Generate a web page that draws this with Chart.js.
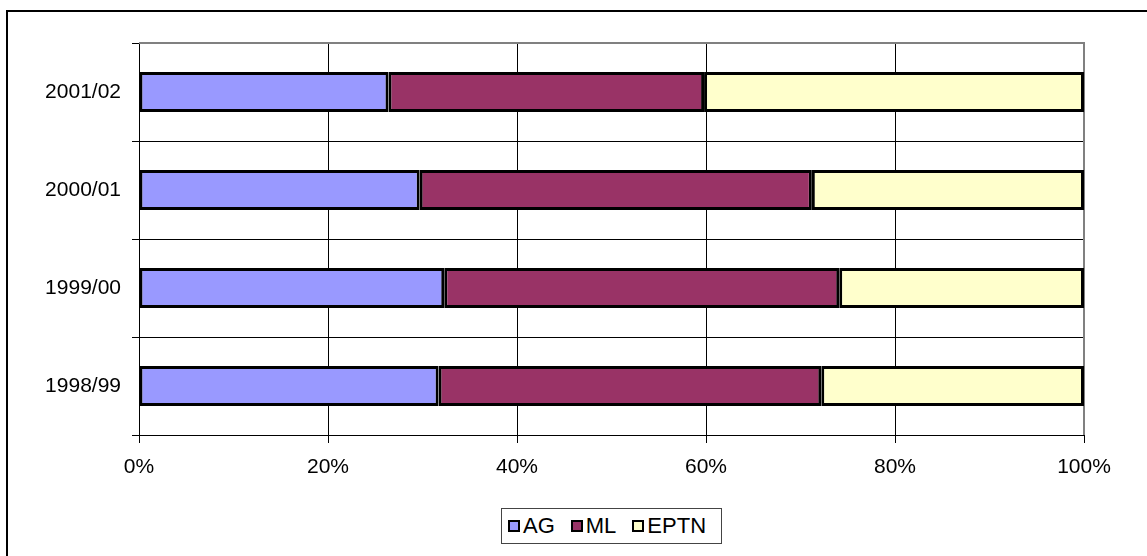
<!DOCTYPE html>
<html>
<head>
<meta charset="utf-8">
<script src="https://cdn.jsdelivr.net/npm/chart.js@4/dist/chart.umd.min.js"></script>
<style>
    html, body { margin: 0; padding: 0; background: #fff; }
    #wrap { position: relative; width: 1147px; height: 556px; overflow: hidden; }
    #legend {
        position: absolute; left: 501px; top: 508px; width: 221px; height: 36px;
        border: 1px solid #444; box-sizing: border-box; background: #fff;
        font-family: "Liberation Sans", Arial, sans-serif; font-size: 22px; color: #000;
        display: flex; align-items: center; padding-left: 6px;
    }
    #legend .item { display: flex; align-items: center; margin-right: 16px; }
    #legend .box { width: 8px; height: 8px; border: 2px solid #000; margin-right: 3px; }
</style>
</head>
<body>
<div id="wrap">
    <canvas id="c" width="1147" height="556"></canvas>
    <div id="legend"></div>
</div>
<script>
    // 年度分类与各部分占比（%）
    var YEARS = ['2001/02', '2000/01', '1999/00', '1998/99'];
    var AG = [26.4, 29.7, 32.3, 31.7];
    var ML = [33.4, 41.5, 41.8, 40.5];
    var EPTN = [40.2, 28.8, 25.9, 27.8];
    var X_TICKS = [0, 20, 40, 60, 80, 100];

    var SERIES = [
        { label: 'AG', data: AG, color: '#9999FF' },
        { label: 'ML', data: ML, color: '#993366' },
        { label: 'EPTN', data: EPTN, color: '#FFFFCC' }
    ];

    var FONT = { family: '"Liberation Sans", Arial, sans-serif', size: 21 };

    // 外框 + 绘图区灰色边
    var framePlugin = {
        id: 'frame',
        beforeDraw: function (chart) {
            var ctx = chart.ctx;
            ctx.save();
            ctx.fillStyle = '#fff';
            ctx.fillRect(0, 0, chart.width, chart.height);
            ctx.strokeStyle = '#000';
            ctx.lineWidth = 2;
            ctx.strokeRect(7, 11, 1200, 600);
            ctx.restore();
        },
        beforeDatasetsDraw: function (chart) {
            var a = chart.chartArea;
            var ctx = chart.ctx;
            ctx.save();
            ctx.strokeStyle = '#808080';
            ctx.lineWidth = 2;
            ctx.beginPath();
            ctx.moveTo(a.left, a.top);
            ctx.lineTo(a.right, a.top);
            ctx.lineTo(a.right, a.bottom);
            ctx.stroke();
            ctx.restore();
        }
    };

    var datasets = [];
    for (var i = 0; i < SERIES.length; i++) {
        datasets.push({
            label: SERIES[i].label,
            data: SERIES[i].data,
            backgroundColor: SERIES[i].color,
            borderColor: '#000',
            borderWidth: 3,
            borderSkipped: false,
            barPercentage: 0.41,
            categoryPercentage: 1.0
        });
    }

    new Chart(document.getElementById('c').getContext('2d'), {
        type: 'bar',
        data: { labels: YEARS, datasets: datasets },
        plugins: [framePlugin],
        options: {
            indexAxis: 'y',
            responsive: false,
            animation: false,
            layout: { padding: { left: 0, right: 63, top: 43, bottom: 61 } },
            plugins: { legend: { display: false }, tooltip: { enabled: false } },
            scales: {
                x: {
                    stacked: true,
                    min: 0,
                    max: 100,
                    afterBuildTicks: function (scale) {
                        scale.ticks = X_TICKS.map(function (v) { return { value: v }; });
                    },
                    afterFit: function (scale) { scale.height = 60; },
                    grid: { color: '#000', lineWidth: 1, tickLength: 8, drawTicks: true },
                    border: { color: '#000', width: 1 },
                    ticks: {
                        color: '#000',
                        font: FONT,
                        padding: 12,
                        maxRotation: 0,
                        autoSkip: false,
                        callback: function (v) { return v + '%'; }
                    }
                },
                y: {
                    stacked: true,
                    afterFit: function (scale) { scale.width = 139; },
                    grid: { color: '#000', lineWidth: 1, tickLength: 7, offset: true },
                    border: { color: '#000', width: 1 },
                    ticks: { color: '#000', font: FONT, padding: 11 }
                }
            }
        }
    });

    // 图例（HTML）
    var legend = document.getElementById('legend');
    for (var j = 0; j < SERIES.length; j++) {
        var item = document.createElement('div');
        item.className = 'item';
        var box = document.createElement('span');
        box.className = 'box';
        box.style.background = SERIES[j].color;
        var txt = document.createElement('span');
        txt.textContent = SERIES[j].label;
        item.appendChild(box);
        item.appendChild(txt);
        legend.appendChild(item);
    }
</script>
</body>
</html>
